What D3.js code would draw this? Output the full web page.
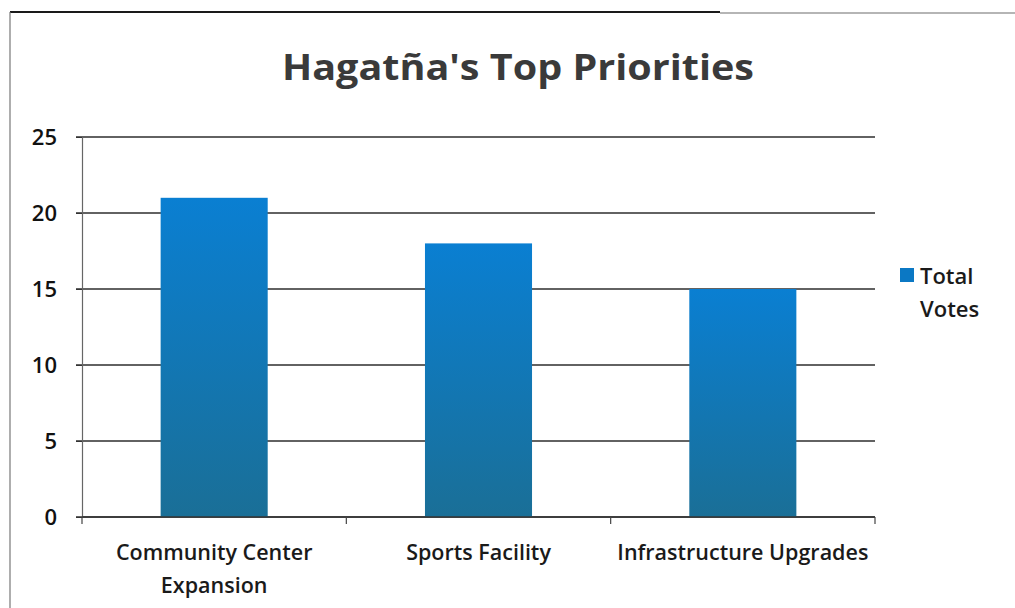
<!DOCTYPE html>
<html>
<head>
<meta charset="utf-8">
<script src="https://cdn.jsdelivr.net/npm/d3@7"></script>
<style>
  html, body { margin: 0; padding: 0; background: #fff; }
  svg { display: block; }
</style>
</head>
<body>
<svg id="chart" width="1015" height="608"></svg>
<script>
// Chart data
const categories = ["Community Center Expansion", "Sports Facility", "Infrastructure Upgrades"];
const categoryLines = [["Community Center", "Expansion"], ["Sports Facility"], ["Infrastructure Upgrades"]];
const totalVotes = [21, 18, 15];
const yTicks = [0, 5, 10, 15, 20, 25];
const seriesName = ["Total", "Votes"];
const titleText = "Hagatña's Top Priorities";

const svg = d3.select("#chart");
const font = "'Open Sans', 'Liberation Sans', sans-serif";

// Plot area
const plot = { left: 82, right: 875, top: 137, bottom: 517 };

const x = d3.scaleBand()
  .domain(categories)
  .range([plot.left, plot.right])
  .paddingInner(0.595)
  .paddingOuter(0.2975);

const y = d3.scaleLinear()
  .domain([0, 25])
  .range([plot.bottom, plot.top]);

// Outer frame
svg.append("line").attr("x1", 10).attr("x2", 720).attr("y1", 12).attr("y2", 12)
  .attr("stroke", "#1a1a1a").attr("stroke-width", 2);
svg.append("line").attr("x1", 720).attr("x2", 1015).attr("y1", 13).attr("y2", 13)
  .attr("stroke", "#b5b5b5").attr("stroke-width", 2);
svg.append("line").attr("x1", 10).attr("x2", 10).attr("y1", 12).attr("y2", 608)
  .attr("stroke", "#777").attr("stroke-width", 1.2);

// Title
svg.append("text")
  .attr("x", 518).attr("y", 80)
  .attr("text-anchor", "middle")
  .attr("font-family", font)
  .attr("font-weight", 700)
  .attr("font-size", 36)
  .attr("fill", "#3a3a3a")
  .attr("textLength", 472)
  .attr("lengthAdjust", "spacingAndGlyphs")
  .text(titleText);

// Gradient for bars
const defs = svg.append("defs");
const grad = defs.append("linearGradient").attr("id", "barGrad")
  .attr("x1", 0).attr("y1", 0).attr("x2", 0).attr("y2", 1);
grad.append("stop").attr("offset", "0%").attr("stop-color", "#0a7fd2");
grad.append("stop").attr("offset", "100%").attr("stop-color", "#1a6f97");

// Gridlines
svg.append("g")
  .selectAll("line")
  .data(yTicks)
  .join("line")
  .attr("x1", plot.left - 6)
  .attr("x2", plot.right)
  .attr("y1", d => y(d))
  .attr("y2", d => y(d))
  .attr("stroke", "#2e2e2e")
  .attr("stroke-width", 1.6);

// Y axis
const yAxis = svg.append("g")
  .attr("transform", `translate(${plot.left},0)`)
  .call(d3.axisLeft(y).tickValues(yTicks).tickSize(6).tickPadding(19));
yAxis.select(".domain").attr("stroke", "#666").attr("stroke-width", 1.2);
yAxis.selectAll(".tick line").attr("stroke", "#333");
yAxis.selectAll("text")
  .attr("font-family", font)
  .attr("font-size", 22)
  .attr("font-weight", 600)
  .attr("fill", "#111");

// Bars
svg.append("g")
  .selectAll("rect")
  .data(totalVotes)
  .join("rect")
  .attr("x", (d, i) => x(categories[i]))
  .attr("y", d => y(d))
  .attr("width", x.bandwidth())
  .attr("height", d => y(0) - y(d))
  .attr("fill", "url(#barGrad)");

// X axis
const xAxis = svg.append("g")
  .attr("transform", `translate(0,${plot.bottom})`);
xAxis.append("line")
  .attr("x1", plot.left).attr("x2", plot.right)
  .attr("stroke", "#333").attr("stroke-width", 1.6);
const boundaries = categories.map(c => x(c) - x.step() * x.paddingInner() / 2)
  .concat([plot.right]);
boundaries[0] = plot.left;
xAxis.selectAll("line.tick")
  .data(boundaries)
  .join("line")
  .attr("class", "tick")
  .attr("x1", d => d).attr("x2", d => d)
  .attr("y1", 0).attr("y2", 7)
  .attr("stroke", "#444").attr("stroke-width", 1.2);

// Category labels
const labels = svg.append("g")
  .selectAll("text")
  .data(categories)
  .join("text")
  .attr("text-anchor", "middle")
  .attr("font-family", font)
  .attr("font-size", 21.5)
  .attr("font-weight", 600)
  .attr("fill", "#1a1a1a")
  .attr("transform", d => `translate(${x(d) + x.bandwidth() / 2},560)`);
labels.selectAll("tspan")
  .data((d, i) => categoryLines[i])
  .join("tspan")
  .attr("x", 0)
  .attr("dy", (d, i) => i === 0 ? 0 : 33)
  .text(d => d);

// Legend
const legend = svg.append("g").attr("transform", "translate(900,268)");
legend.append("rect")
  .attr("width", 14).attr("height", 14)
  .attr("fill", "#0b78c4");
legend.append("text")
  .attr("x", 20).attr("y", 16)
  .attr("font-family", font)
  .attr("font-size", 22)
  .attr("font-weight", 600)
  .attr("fill", "#1a1a1a")
  .selectAll("tspan")
  .data(seriesName)
  .join("tspan")
  .attr("x", 20)
  .attr("dy", (d, i) => i === 0 ? 0 : 33)
  .text(d => d);
</script>
</body>
</html>
